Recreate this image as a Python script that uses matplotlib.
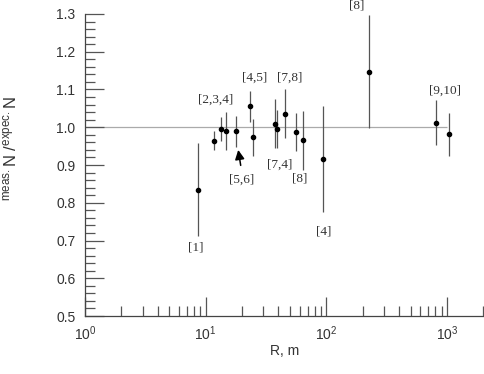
import matplotlib
matplotlib.use("Agg")
import matplotlib.pyplot as plt
from matplotlib.ticker import MultipleLocator, LogLocator, NullFormatter

plt.rcParams['font.family'] = ['Liberation Sans', 'DejaVu Sans']
plt.rcParams['mathtext.fontset'] = 'custom'
plt.rcParams['mathtext.rm'] = 'Liberation Sans'
plt.rcParams['mathtext.it'] = 'Liberation Sans'

# distance R (m), measured/expected ratio and its error
R = [8.7, 11.8, 13.3, 14.7, 17.9, 23.3, 24.8, 37.3, 39.2, 45.1, 56.3, 63.6, 94.3, 227, 809, 1037]
ratio = [0.835, 0.964, 0.995, 0.990, 0.989, 1.056, 0.974, 1.009, 0.995, 1.036, 0.988, 0.965, 0.916, 1.147, 1.012, 0.981]
err = [0.122, 0.025, 0.031, 0.050, 0.040, 0.041, 0.049, 0.065, 0.051, 0.065, 0.050, 0.077, 0.141, 0.149, 0.060, 0.058]

# reference labels
refs = ['[1]', '[2,3,4]', '[4,5]', '[7,8]', '[5,6]', '[7,4]', '[8]', '[4]', '[8]', '[9,10]']
ref_x = [8.3, 12.2, 25.6, 49.9, 19.9, 40.7, 59.6, 94.2, 178, 961]
ref_y = [0.681, 1.072, 1.132, 1.132, 0.861, 0.902, 0.864, 0.724, 1.322, 1.098]

fig = plt.figure(figsize=(4.84, 3.74), dpi=100)
ax = fig.add_axes([0.1756, 0.155, 0.8232, 0.8076])

ax.hlines(1.0, 1, 1000, color='#aaaaaa', lw=0.9, zorder=1)
ax.errorbar(R, ratio, yerr=err, fmt='o', color='black', ms=3,
            ecolor='#555555', elinewidth=0.9, capsize=0, zorder=3)

for t, x, y in zip(refs, ref_x, ref_y):
    ax.text(x, y, t, ha='center', va='center', fontsize=9.5,
            family='Liberation Serif', color='#333333', clip_on=False)

# arrow pointing at the [5,6] point
ax.annotate('', xy=(18.6, 0.94), xytext=(19.5, 0.899),
            arrowprops=dict(arrowstyle='-|>', color='black', lw=1.1,
                            mutation_scale=14, shrinkA=0, shrinkB=0))

ax.set_xscale('log')
ax.set_xlim(1, 2000)
ax.set_ylim(0.5, 1.3)

ax.xaxis.set_major_locator(LogLocator(base=10, numticks=10))
ax.xaxis.set_minor_locator(LogLocator(base=10, subs=range(2, 10), numticks=10))
ax.xaxis.set_minor_formatter(NullFormatter())
ax.yaxis.set_major_locator(MultipleLocator(0.1))
ax.yaxis.set_minor_locator(MultipleLocator(0.02))
ax.yaxis.set_major_formatter(plt.FuncFormatter(lambda v, p: '%.1f' % v))

ax.tick_params(which='major', direction='in', length=14, width=0.9,
               color='#555555', labelsize=10, labelcolor='#333333')
ax.tick_params(which='minor', direction='in', length=7, width=0.9, color='#555555')
ax.tick_params(axis='x', which='major', pad=6)
ax.tick_params(axis='y', which='major', pad=7)

for s in ['top', 'right']:
    ax.spines[s].set_visible(False)
for s in ['left', 'bottom']:
    ax.spines[s].set_color('#444444')
    ax.spines[s].set_linewidth(0.9)

ax.set_xlabel('R, m', fontsize=10, color='#333333', labelpad=1)
ax.set_ylabel(r'$^{\mathrm{meas.}}\mathrm{N}\ /^{\mathrm{expec.}}\mathrm{N}$',
              fontsize=12, color='#333333')
ax.yaxis.set_label_coords(-0.165, 0.553)

fig.savefig('out.png', dpi=100)
